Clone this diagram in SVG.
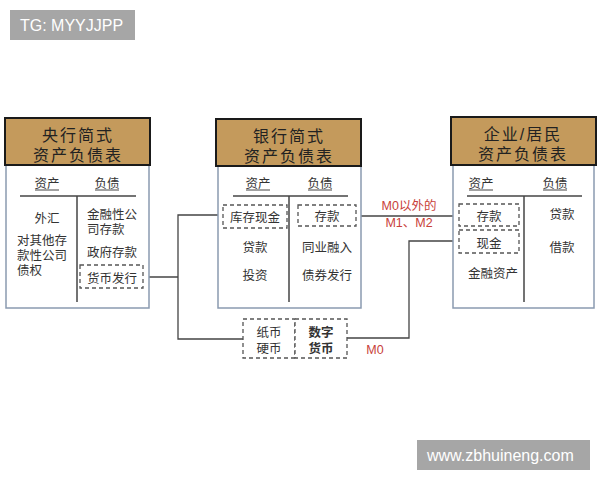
<svg xmlns="http://www.w3.org/2000/svg" width="600" height="480" viewBox="0 0 600 480">
<style>
text{font-family:"Liberation Sans","Noto Sans CJK SC",sans-serif;dominant-baseline:central;transform:translate(0px,1.5px)}
.hd{fill:#c49a5c;stroke:#1a1a1a;stroke-width:2}
.ht{font-size:16px;fill:#222;text-anchor:middle;letter-spacing:2px}
.bd{fill:#fff;stroke:#8a9ab0;stroke-width:1.5}
.t{font-size:12.5px;fill:#333;text-anchor:middle}
.tl{font-size:12.5px;fill:#333;text-anchor:start}
.ul{stroke:#444;stroke-width:1}
.ln{stroke:#444;stroke-width:1.5;fill:none}
.db{fill:#fff;stroke:#555;stroke-width:1.3;stroke-dasharray:4,3}
.con{stroke:#444;stroke-width:1.3;fill:none}
.red{font-size:12.5px;fill:#c8413a;text-anchor:middle}
.wm{fill:#a6a6a6}
.wt{font-size:16px;fill:#fff}
</style>
<rect class="wm" x="10" y="10" width="125" height="30"/>
<text class="wt" x="20" y="24">TG: MYYJJPP</text>
<rect class="wm" x="417" y="440" width="173" height="30"/>
<text class="wt" x="427" y="454">www.zbhuineng.com</text>

<g id="connectors">
<polyline class="con" points="143,277 178,277"/>
<polyline class="con" points="223,215 178,215 178,339 243,339"/>
<line class="con" x1="356" y1="216" x2="459" y2="216"/>
<polyline class="con" points="459,241 409,241 409,338 347,338"/>
<text class="red" x="409" y="204.5">M0以外的<tspan x="409" dy="16.5">M1、M2</tspan></text>
<text class="red" x="375" y="348">M0</text>
</g>

<g id="central-bank">
<rect class="bd" x="6" y="165" width="143" height="143"/>
<rect class="hd" x="5" y="118" width="145" height="47"/>
<text class="ht" x="78" y="134">央行简式<tspan x="78" dy="19">资产负债表</tspan></text>
<text class="t" x="47" y="182">资产</text>
<line class="ul" x1="35" y1="190" x2="59" y2="190"/>
<text class="t" x="107" y="182">负债</text>
<line class="ul" x1="95" y1="190" x2="119" y2="190"/>
<line class="ln" x1="20" y1="196" x2="136" y2="196"/>
<line class="ln" x1="77" y1="196" x2="77" y2="302"/>
<text class="t" x="47" y="217">外汇</text>
<text class="tl" x="17" y="239">对其他存<tspan x="17" dy="15">款性公司</tspan><tspan x="17" dy="15">债权</tspan></text>
<text class="tl" x="87" y="213">金融性公<tspan x="87" dy="15">司存款</tspan></text>
<text class="t" x="112" y="251">政府存款</text>
<rect class="db" x="80" y="265" width="63" height="23"/>
<text class="t" x="112" y="277">货币发行</text>
</g>

<g id="bank">
<rect class="bd" x="218" y="166" width="143" height="142"/>
<rect class="hd" x="216" y="119" width="145" height="47"/>
<text class="ht" x="289" y="135">银行简式<tspan x="289" dy="19">资产负债表</tspan></text>
<text class="t" x="258" y="182">资产</text>
<line class="ul" x1="246" y1="190" x2="270" y2="190"/>
<text class="t" x="320" y="182">负债</text>
<line class="ul" x1="308" y1="190" x2="332" y2="190"/>
<line class="ln" x1="233" y1="196" x2="348" y2="196"/>
<line class="ln" x1="289" y1="196" x2="289" y2="302"/>
<rect class="db" x="223" y="205" width="64" height="23"/>
<text class="t" x="255" y="216">库存现金</text>
<rect class="db" x="298" y="205" width="58" height="21"/>
<text class="t" x="327" y="215">存款</text>
<text class="t" x="255" y="246">贷款</text>
<text class="t" x="327" y="246">同业融入</text>
<text class="t" x="255" y="274">投资</text>
<text class="t" x="327" y="274">债券发行</text>
</g>

<g id="household">
<rect class="bd" x="453" y="165" width="141" height="143"/>
<rect class="hd" x="451" y="117" width="145" height="48"/>
<text class="ht" x="523" y="133">企业/居民<tspan x="523" dy="19">资产负债表</tspan></text>
<text class="t" x="481" y="182">资产</text>
<line class="ul" x1="469" y1="190" x2="493" y2="190"/>
<text class="t" x="555" y="182">负债</text>
<line class="ul" x1="543" y1="190" x2="567" y2="190"/>
<line class="ln" x1="467" y1="196" x2="582" y2="196"/>
<line class="ln" x1="524" y1="196" x2="524" y2="302"/>
<rect class="db" x="459" y="204" width="60" height="22"/>
<text class="t" x="489" y="215">存款</text>
<rect class="db" x="459" y="230" width="60" height="23"/>
<text class="t" x="489" y="242">现金</text>
<text class="t" x="493" y="272">金融资产</text>
<text class="t" x="562" y="213">贷款</text>
<text class="t" x="562" y="246">借款</text>
</g>

<g id="cash">
<rect class="db" x="243" y="319" width="52" height="39"/>
<rect class="db" x="295" y="319" width="52" height="39"/>
<text class="t" x="269" y="331">纸币<tspan x="269" dy="16">硬币</tspan></text>
<text class="t" x="321" y="331" style="font-weight:bold">数字<tspan x="321" dy="16">货币</tspan></text>
</g>
</svg>
